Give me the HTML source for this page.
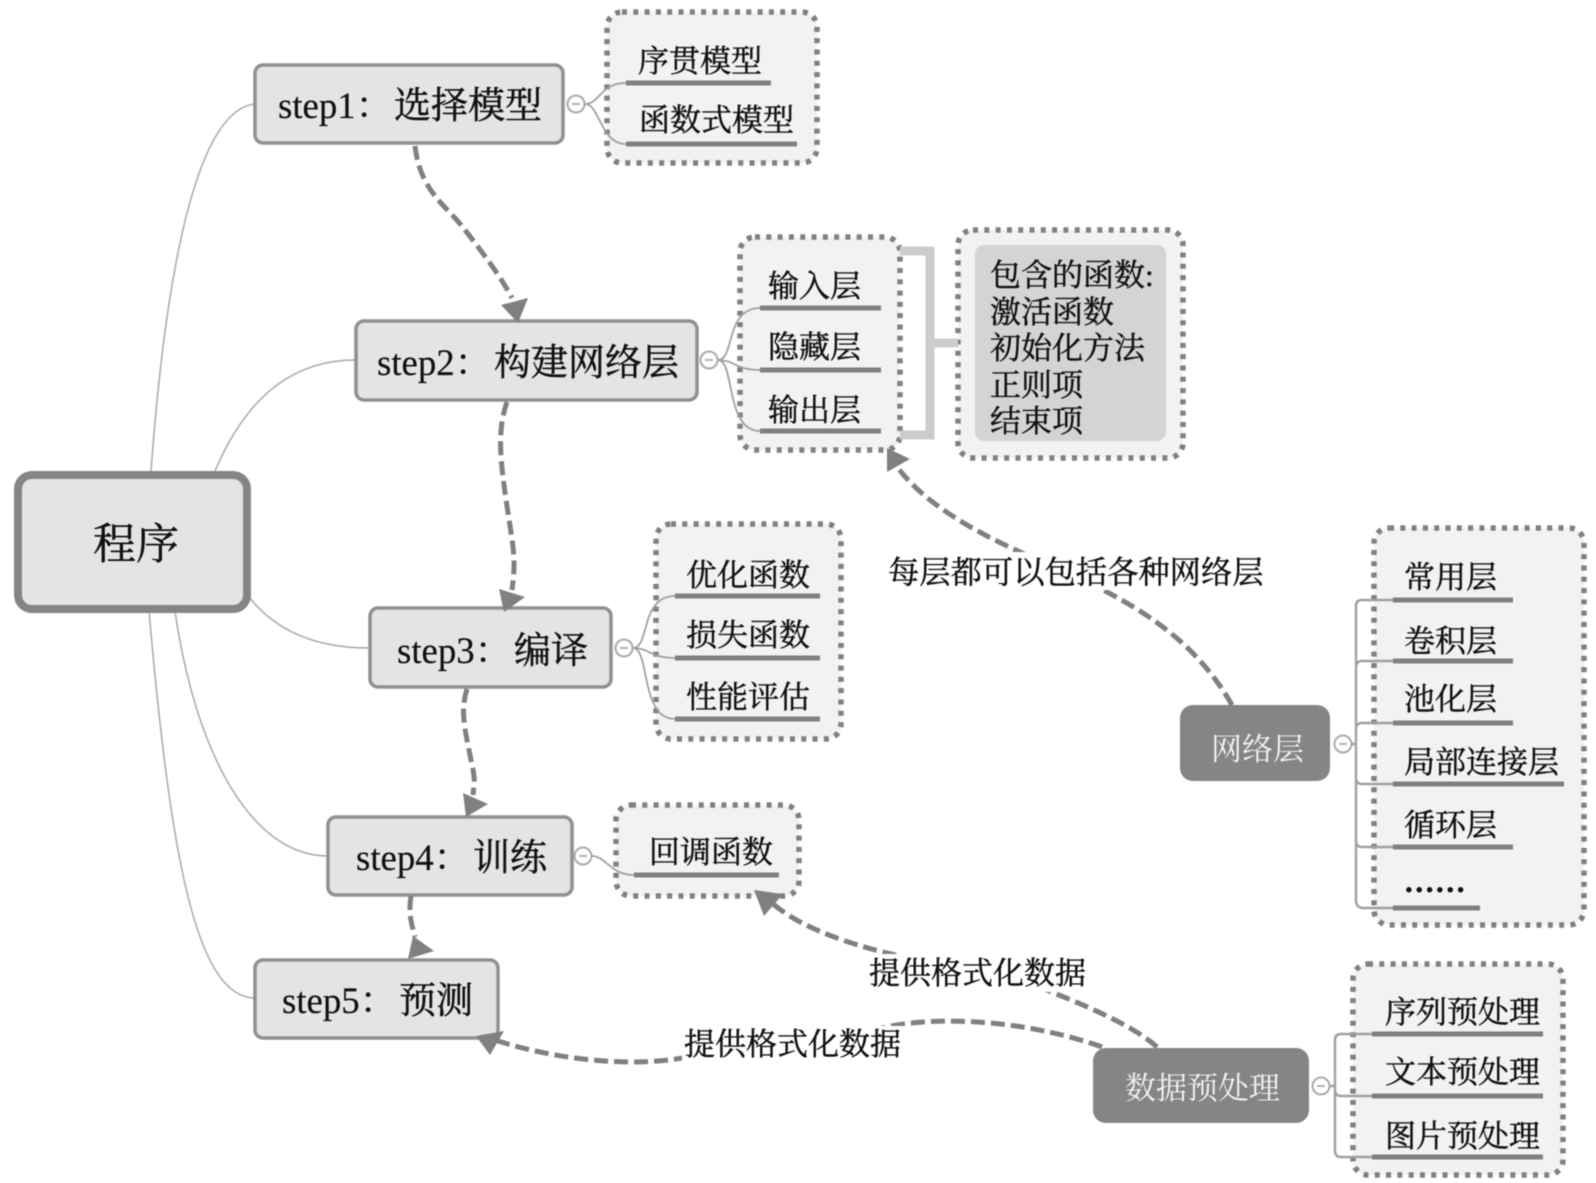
<!DOCTYPE html>
<html><head><meta charset="utf-8"><style>
html,body{margin:0;padding:0;background:#fff;width:1596px;height:1183px;overflow:hidden}
svg{display:block;filter:blur(.6px)}
text{font-family:"Liberation Serif","Noto Serif CJK SC",serif;fill:#111;stroke:#111;stroke-width:.45}
.t{font-size:31px}
.s{font-size:36.8px;stroke-width:.2}
.k{font-size:37px;stroke-width:.5}
.g{fill:#f2f2f2;stroke:#808080;stroke-width:5.5;stroke-dasharray:5 6.3}
.b{fill:#e4e4e4;stroke:#909090;stroke-width:3.5}
.u{stroke:#808080;stroke-width:5;fill:none}
.c{stroke:#a0a0a0;stroke-width:1.8;fill:none}
.r{stroke:#a8a8a8;stroke-width:1.5;fill:none}
.a{stroke:#808080;stroke-width:5;stroke-dasharray:14 6;fill:none}
.h{fill:#808080}
.d{fill:#858585}
</style></head><body>
<svg width="1596" height="1183" viewBox="0 0 1596 1183" xmlns="http://www.w3.org/2000/svg">
<!-- root connectors -->
<path class="r" d="M151 471C165 280 195 110 255 104"/>
<path class="r" d="M215 471C245 400 290 360 355 360"/>
<path class="r" d="M249 597C275 630 315 648 369 648"/>
<path class="r" d="M175 611C195 750 250 856 328 856"/>
<path class="r" d="M149 611C170 850 195 998 255 998"/>
<!-- dotted groups -->
<rect class="g" x="607" y="12" width="210" height="151" rx="15"/>
<rect class="g" x="740" y="237" width="160" height="213" rx="15"/>
<rect class="g" x="958" y="230" width="225" height="228" rx="15"/>
<rect class="g" x="656" y="524" width="185" height="215" rx="15"/>
<rect class="g" x="616" y="805" width="183" height="91" rx="15"/>
<rect class="g" x="1374" y="528" width="210" height="397" rx="15"/>
<rect class="g" x="1353" y="964" width="210" height="211" rx="15"/>
<!-- bracket -->
<path d="M900 251H930V435H900M930 343H958" fill="none" stroke="#cccccc" stroke-width="9"/>
<rect x="975" y="245" width="191" height="196" rx="9" fill="#d4d4d4"/>
<!-- main boxes -->
<rect x="18" y="475" width="229" height="134" rx="14" fill="#e4e4e4" stroke="#858585" stroke-width="8"/>
<rect class="b" x="255" y="65" width="308" height="78" rx="8"/>
<rect class="b" x="356" y="321" width="341" height="79" rx="8"/>
<rect class="b" x="370" y="608" width="241" height="79" rx="8"/>
<rect class="b" x="328" y="817" width="244" height="78" rx="8"/>
<rect class="b" x="255" y="960" width="243" height="78" rx="8"/>
<rect class="d" x="1180" y="705" width="150" height="76" rx="13"/>
<rect class="d" x="1093" y="1048" width="216" height="75" rx="13"/>
<!-- stubs -->
<path class="c" d="M585 104C600 104 600 83 626 83M585 104C600 104 600 144 626 144"/>
<path class="c" d="M718 360C735 360 725 308 760 308M718 360C735 360 735 370 760 370M718 360C735 360 725 431 760 431"/>
<path class="c" d="M633 648C650 648 640 596 675 596M633 648C650 648 650 658 675 658M633 648C650 648 640 719 675 719"/>
<path class="c" d="M592 856C606 856 610 875 634 875"/>
<path class="c" style="stroke-width:2.4" d="M1352 744H1356M1393 600H1362Q1356 600 1356 606V900Q1356 908 1364 908H1393M1356 667Q1356 661 1362 661H1393M1356 729Q1356 723 1362 723H1393M1356 778Q1356 784 1362 784H1393M1356 841Q1356 847 1362 847H1393"/>
<path class="c" style="stroke-width:2.4" d="M1330 1086H1335M1372 1034H1341Q1335 1034 1335 1040V1151Q1335 1157 1341 1157H1372M1335 1090Q1335 1096 1341 1096H1372"/>
<!-- underlines -->
<path class="u" d="M626 83H771M626 144H797M760 308H881M760 370H881M760 431H881M675 596H820M675 658H820M675 719H820M634 875H779M1393 600H1513M1393 661H1513M1393 723H1513M1393 784H1564M1393 847H1513M1393 908H1480M1372 1034H1543M1372 1096H1543M1372 1157H1543"/>
<!-- collapse circles -->
<g fill="#fff" stroke="#aaaaaa" stroke-width="2">
<circle cx="576" cy="104" r="8.5"/><circle cx="709" cy="360" r="8.5"/><circle cx="624" cy="648" r="8.5"/><circle cx="583" cy="856" r="8.5"/><circle cx="1343" cy="744" r="8.5"/><circle cx="1321" cy="1086" r="8.5"/>
</g>
<path stroke="#999" stroke-width="1.5" d="M572 104H580M705 360H713M620 648H628M579 856H587M1339 744H1347M1317 1086H1325"/>
<!-- dashed arrows -->
<path class="a" d="M415 146C420 190 445 205 461 225S500 275 512 298"/>
<path class="h" d="M501 305L528 298L518 323Z"/>
<path class="a" d="M507 402C497 430 500 460 507 506S516 560 512 590"/>
<path class="h" d="M499 589L525 597L504 612Z"/>
<path class="a" d="M467 689C460 710 465 730 470 755S475 775 473 795"/>
<path class="h" d="M463 793L488 804L466 817Z"/>
<path class="a" d="M411 896C408 915 412 925 415 937"/>
<path class="h" d="M413 936L434 951L408 959Z"/>
<path class="a" d="M1232 705C1192 635 1130 600 1050 565C990 540 930 510 898 468"/>
<path class="h" d="M887 448L910 459L887 472Z"/>
<path class="a" d="M1157 1047C1127 1020 1060 995 1000 972C930 965 820 945 772 903"/>
<path class="h" d="M754 890L783 894L764 916Z"/>
<path class="a" d="M1102 1047C1050 1028 960 1012 886 1027C800 1050 750 1045 688 1057C620 1070 540 1055 495 1040"/>
<path class="h" d="M476 1036L504 1031L490 1055Z"/>
<!-- label backgrounds -->
<rect x="886" y="552" width="383" height="38" fill="#fff"/>
<rect x="867" y="954" width="223" height="38" fill="#fff"/>
<rect x="682" y="1026" width="224" height="36" fill="#fff"/>
<!-- text -->
<text x="93" y="559" style="font-size:43px">程序</text>
<text class="s" x="278" y="118">step1：<tspan class="k" x="394">选择模型</tspan></text>
<text class="s" x="377" y="375">step2：<tspan class="k" x="494">构建网络层</tspan></text>
<text class="s" x="397" y="663">step3：<tspan class="k" x="514">编译</tspan></text>
<text class="s" x="356" y="870">step4：<tspan class="k" x="473">训练</tspan></text>
<text class="s" x="282" y="1013">step5：<tspan class="k" x="399">预测</tspan></text>
<text class="t" x="638" y="72">序贯模型</text>
<text class="t" x="639" y="131">函数式模型</text>
<text class="t" x="768" y="297">输入层</text>
<text class="t" x="768" y="358">隐藏层</text>
<text class="t" x="768" y="421">输出层</text>
<text class="t" x="990" y="286">包含的函数:</text>
<text class="t" x="990" y="323">激活函数</text>
<text class="t" x="990" y="359">初始化方法</text>
<text class="t" x="990" y="396">正则项</text>
<text class="t" x="990" y="432">结束项</text>
<text class="t" x="686" y="586">优化函数</text>
<text class="t" x="686" y="646">损失函数</text>
<text class="t" x="686" y="708">性能评估</text>
<text class="t" x="649" y="863">回调函数</text>
<text x="888" y="583" style="font-size:31.3px">每层都可以包括各种网络层</text>
<text class="t" x="869" y="984">提供格式化数据</text>
<text class="t" x="684" y="1055">提供格式化数据</text>
<text class="t" x="1211" y="760" style="fill:#f4f4f4;stroke:none">网络层</text>
<text class="t" x="1125" y="1099" style="fill:#f4f4f4;stroke:none">数据预处理</text>
<text class="t" x="1404" y="588">常用层</text>
<text class="t" x="1404" y="652">卷积层</text>
<text class="t" x="1404" y="710">池化层</text>
<text class="t" x="1404" y="773">局部连接层</text>
<text class="t" x="1404" y="836">循环层</text>
<text class="t" x="1405" y="892" style="font-weight:bold;letter-spacing:2.6px">......</text>
<text class="t" x="1385" y="1023">序列预处理</text>
<text class="t" x="1385" y="1083">文本预处理</text>
<text class="t" x="1385" y="1147">图片预处理</text>
</svg>
</body></html>
